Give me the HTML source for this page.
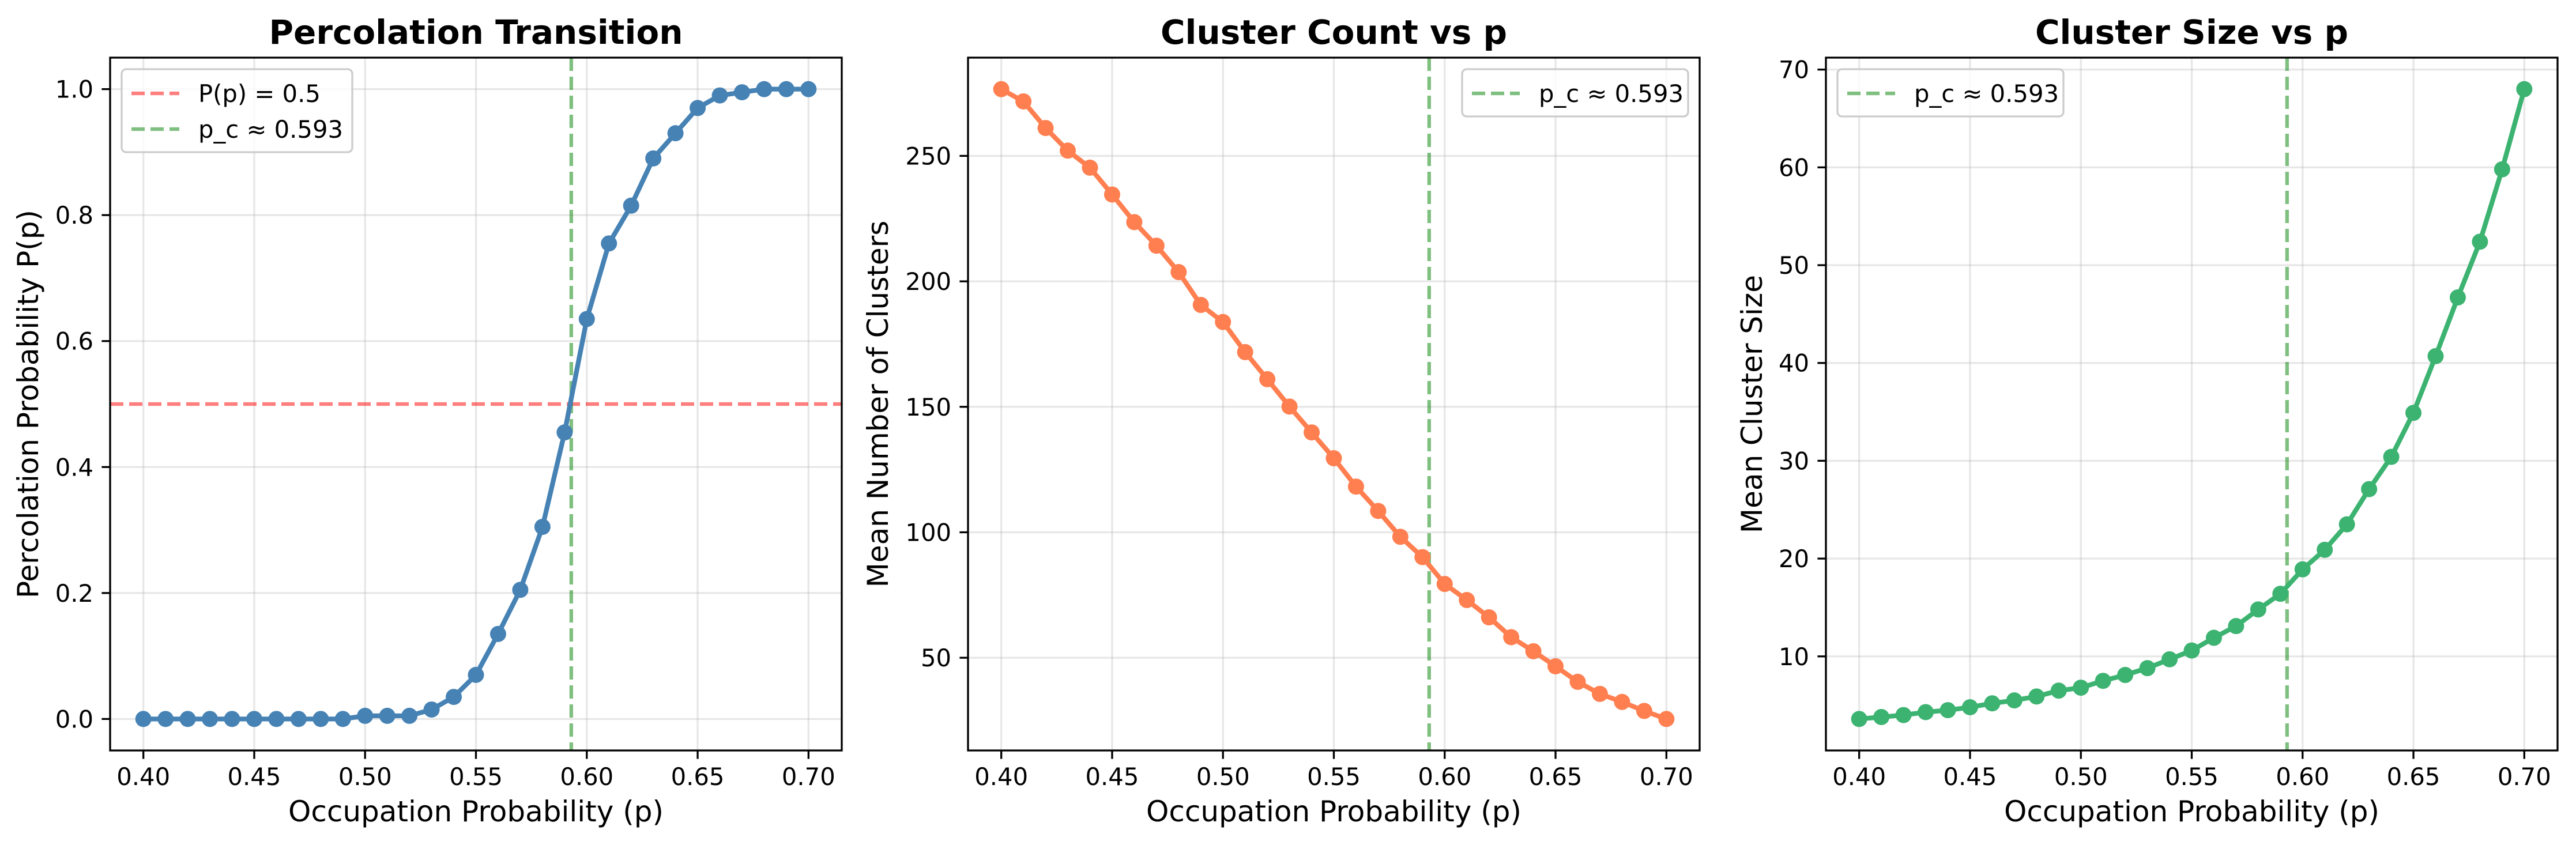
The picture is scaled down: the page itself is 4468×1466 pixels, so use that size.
<!DOCTYPE html>
<html><head><meta charset="utf-8"><style>
html,body{margin:0;padding:0;background:#fff}
svg{display:block}
text{font-family:"DejaVu Sans","Liberation Sans",sans-serif;fill:#000}
</style></head><body>
<svg id="fig" width="4468" height="1466" viewBox="0 0 4468 1466" xmlns="http://www.w3.org/2000/svg"></svg>
<script>
const pValues = [0.40,0.41,0.42,0.43,0.44,0.45,0.46,0.47,0.48,0.49,0.50,0.51,0.52,0.53,0.54,0.55,0.56,0.57,0.58,0.59,0.60,0.61,0.62,0.63,0.64,0.65,0.66,0.67,0.68,0.69,0.70];
const percProb = [0,0,0,0,0,0,0,0,0,0,0.005,0.005,0.005,0.015,0.035,0.07,0.135,0.205,0.305,0.455,0.635,0.755,0.815,0.89,0.93,0.97,0.99,0.995,1,1,1];
const clusterCount = [276.6,271.7,261.1,252.1,245.3,234.6,223.6,214.2,203.7,190.6,183.8,171.8,161.0,150.1,139.8,129.5,118.2,108.5,98.2,90.1,79.4,73.0,66.1,58.2,52.6,46.6,40.4,35.6,32.4,28.8,25.6];
const clusterSize = [3.6,3.8,4.0,4.3,4.5,4.8,5.2,5.5,5.9,6.5,6.8,7.5,8.1,8.8,9.7,10.6,11.9,13.1,14.8,16.4,18.9,20.9,23.5,27.1,30.4,34.9,40.7,46.7,52.4,59.8,68.0];
const xTicks = [0.40,0.45,0.50,0.55,0.60,0.65,0.70];
const xTickLabels = ["0.40","0.45","0.50","0.55","0.60","0.65","0.70"];
const yTicks1 = [0,0.2,0.4,0.6,0.8,1.0];
const yTickLabels1 = ["0.0","0.2","0.4","0.6","0.8","1.0"];
const yTicks2 = [50,100,150,200,250];
const yTickLabels2 = ["50","100","150","200","250"];
const yTicks3 = [10,20,30,40,50,60,70];
const yTickLabels3 = ["10","20","30","40","50","60","70"];
const pCritical = 0.593;
const halfLine = 0.5;

const NS="http://www.w3.org/2000/svg";
const fig=document.getElementById('fig');
function mk(tag,attrs,parent){const e=document.createElementNS(NS,tag);for(const k in attrs)e.setAttribute(k,attrs[k]);(parent||fig).appendChild(e);return e;}

const TOP=100,BOT=1302,W=1269;
function panel(o){
  const g=mk('g',{});
  
  
  const L=o.left,R=L+W;
  const xmin=Math.min(...pValues),xmax=Math.max(...pValues),xm=(xmax-xmin)*0.05;
  const ymin=Math.min(...o.y),ymax=Math.max(...o.y),ym=(ymax-ymin)*0.05;
  const X=v=>L+(v-(xmin-xm))/((xmax+xm)-(xmin-xm))*W;
  const Y=v=>BOT-(v-(ymin-ym))/((ymax+ym)-(ymin-ym))*(BOT-TOP);
  xTicks.forEach(t=>{const l=mk('line',{x1:X(t),x2:X(t),y1:TOP,y2:BOT,stroke:'#b0b0b0','stroke-opacity':0.3,'stroke-width':3.3},g);
    });
  o.yt.forEach(t=>{const l=mk('line',{x1:L,x2:R,y1:Y(t),y2:Y(t),stroke:'#b0b0b0','stroke-opacity':0.3,'stroke-width':3.3},g);
    });
  if(o.hline){const l=mk('line',{x1:L,x2:R,y1:Y(halfLine),y2:Y(halfLine),stroke:'#ff0000','stroke-opacity':0.5,'stroke-width':6.25,'stroke-dasharray':'23 10'},g);
    }
  const vl=mk('line',{x1:X(pCritical),x2:X(pCritical),y1:TOP,y2:BOT,stroke:'#008000','stroke-opacity':0.5,'stroke-width':6.25,'stroke-dasharray':'23 10'},g);
  
  const pts=pValues.map((p,i)=>X(p).toFixed(1)+','+Y(o.y[i]).toFixed(1)).join(' ');
  const pl=mk('polyline',{points:pts,fill:'none',stroke:o.color,'stroke-width':8.3,'stroke-linejoin':'round','stroke-linecap':'round'},g);
  
  pValues.forEach((p,i)=>{const c=mk('circle',{cx:X(p),cy:Y(o.y[i]),r:14,fill:o.color},g);
    });
  const sp=mk('rect',{x:L,y:TOP,width:W,height:BOT-TOP,fill:'none',stroke:'#000','stroke-width':3.3},g);
  
  xTicks.forEach((t,i)=>{mk('line',{x1:X(t),x2:X(t),y1:BOT,y2:BOT+14.6,stroke:'#000','stroke-width':3.3},g);
    const tx=mk('text',{x:X(t),y:1362,'font-size':41.7,'text-anchor':'middle'},g);tx.textContent=xTickLabels[i];
    });
  o.yt.forEach((t,i)=>{mk('line',{x1:L-14.6,x2:L,y1:Y(t),y2:Y(t),stroke:'#000','stroke-width':3.3},g);
    const tx=mk('text',{x:L-29,y:Y(t)+15,'font-size':41.7,'text-anchor':'end'},g);tx.textContent=o.ytl[i];
    });
  const ti=mk('text',{x:L+W/2,y:76,'font-size':58,'font-weight':'bold','text-anchor':'middle'},g);ti.textContent=o.title;
  
  const xl=mk('text',{x:L+W/2,y:1425,'font-size':50,'text-anchor':'middle'},g);xl.textContent='Occupation Probability (p)';
  
  const yl=mk('text',{x:0,y:0,'font-size':50,'text-anchor':'middle',transform:`translate(${o.ylx},${(TOP+BOT)/2}) rotate(-90)`},g);yl.textContent=o.ylabel;
  
  const entries=o.legend;
  const lw=o.legendW,lh=entries.length*62+20;
  const lx=o.legendRight?R-20-lw:L+20, ly=120;
  const lg=mk('g',{},g);
  
  mk('rect',{x:lx,y:ly,width:lw,height:lh,rx:8,fill:'#fff','fill-opacity':0.8,stroke:'#cccccc','stroke-width':3.3},lg);
  entries.forEach((e,i)=>{const cy=ly+42+i*62;
    mk('line',{x1:lx+17,x2:lx+100,y1:cy,y2:cy,stroke:e.c,'stroke-opacity':0.5,'stroke-width':6.25,'stroke-dasharray':'23 10'},lg);
    const t=mk('text',{x:lx+133,y:cy+15,'font-size':41.7},lg);t.textContent=e.t;
    });
}
panel({name:'percolation-transition-panel',left:191,y:percProb,yt:yTicks1,ytl:yTickLabels1,color:'#4682b4',hline:true,
  title:'Percolation Transition',ylabel:'Percolation Probability P(p)',ylx:66,
  legend:[{c:'#ff0000',t:'P(p) = 0.5'},{c:'#008000',t:'p_c ≈ 0.593'}],legendW:400,legendRight:false});
panel({name:'cluster-count-panel',left:1679,y:clusterCount,yt:yTicks2,ytl:yTickLabels2,color:'#ff7f50',hline:false,
  title:'Cluster Count vs p',ylabel:'Mean Number of Clusters',ylx:1540,
  legend:[{c:'#008000',t:'p_c ≈ 0.593'}],legendW:392,legendRight:true});
panel({name:'cluster-size-panel',left:3167,y:clusterSize,yt:yTicks3,ytl:yTickLabels3,color:'#3cb371',hline:false,
  title:'Cluster Size vs p',ylabel:'Mean Cluster Size',ylx:3056,
  legend:[{c:'#008000',t:'p_c ≈ 0.593'}],legendW:392,legendRight:false});
</script>
</body></html>
